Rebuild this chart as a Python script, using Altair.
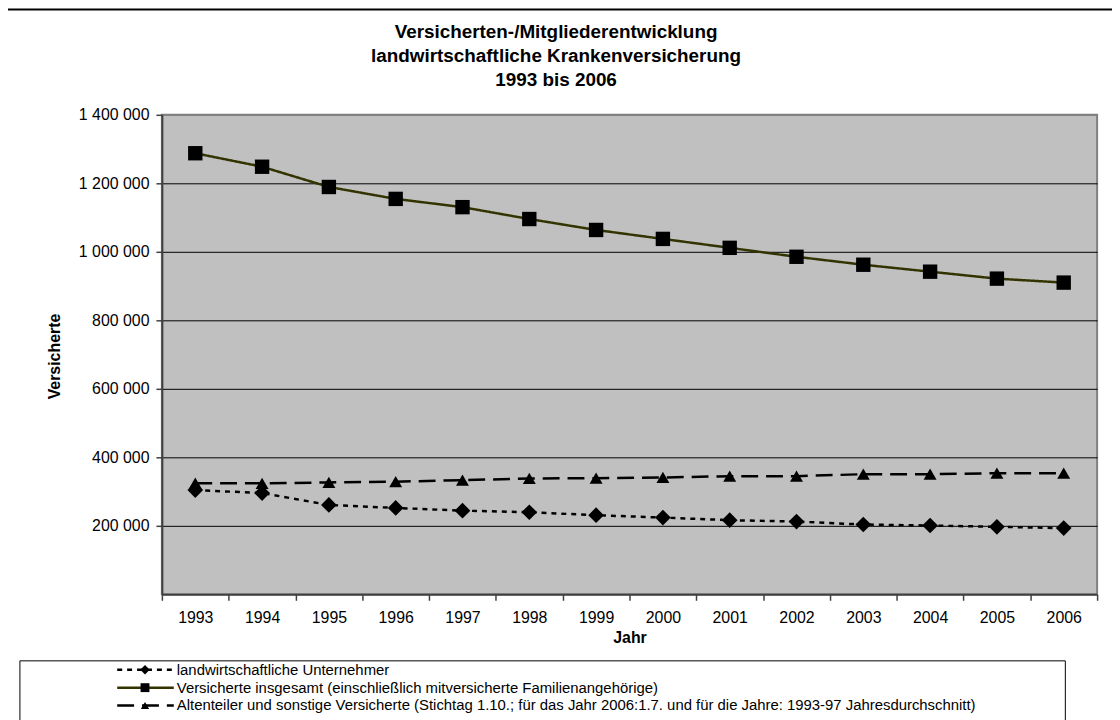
import altair as alt
import pandas as pd

# ---- data ----
years = list(range(1993, 2007))
unternehmer = [304300, 295700, 260900, 252200, 244300, 239700, 231000,
               224100, 216500, 212500, 203800, 200900, 197100, 193300]
insgesamt = [1287800, 1248400, 1189300, 1154500, 1130400, 1095700, 1063800,
             1037700, 1011600, 985500, 962300, 942000, 921700, 910100]
altenteiler = [324600, 324000, 326700, 329000, 333300, 338300, 339100,
               341200, 344900, 345000, 350700, 350700, 353600, 353600]

series_keys = ["U", "V", "A"]
series_labels = [
    "landwirtschaftliche Unternehmer",
    "Versicherte insgesamt (einschließlich mitversicherte Familienangehörige)",
    "Altenteiler und sonstige Versicherte (Stichtag 1.10.; für das Jahr 2006:1.7. und für die Jahre: 1993-97 Jahresdurchschnitt)",
]
y_ticks = [200000, 400000, 600000, 800000, 1000000, 1200000, 1400000]
title_lines = ["Versicherten-/Mitgliederentwicklung",
               "landwirtschaftliche Krankenversicherung",
               "1993 bis 2006"]

rows = []
for key, vals in zip(series_keys, [unternehmer, insgesamt, altenteiler]):
    for yr, v in zip(years, vals):
        rows.append({"Jahr": yr, "Wert": v, "key": key})
df = pd.DataFrame(rows)
leg_df = pd.DataFrame({"key": series_keys, "label": series_labels})
one = pd.DataFrame({"a": [0]})

FONT = "Liberation Sans"

color_scale = alt.Scale(domain=series_keys, range=["#000000", "#333300", "#000000"])
dash_scale = alt.Scale(domain=series_keys, range=[[5, 5], [1, 0], [17, 8]])
shape_scale = alt.Scale(domain=series_keys, range=["diamond", "square", "triangle-up"])
size_scale = alt.Scale(domain=series_keys, range=[250, 170, 340])
leg_size_scale = alt.Scale(domain=series_keys, range=[90, 70, 130])

x_enc = alt.X(
    "Jahr:O",
    scale=alt.Scale(type="band", paddingInner=0, paddingOuter=0),
    bandPosition=0.5,
    axis=alt.Axis(title="Jahr", tickBand="extent", grid=False, labelAngle=0,
                  labelPadding=9, titleY=44, titleBaseline="middle",
                  titleFontWeight="bold"),
)
y_enc = alt.Y(
    "Wert:Q",
    scale=alt.Scale(domain=[0, 1400000], nice=False),
    axis=alt.Axis(
        title="Versicherte", values=y_ticks,
        labelExpr="replace(format(datum.value, ','), regexp(',', 'g'), ' ')",
        grid=True,
        gridColor=alt.condition("datum.value == 1400000", alt.value("#808080"), alt.value("#000000")),
        gridWidth=1, labelPadding=7,
        titleX=-108, titleY=243, titleBaseline="middle", titleAlign="center",
        titleFontWeight="bold",
    ),
)

lines = alt.Chart(df).mark_line(strokeWidth=2.5).encode(
    x=x_enc, y=y_enc,
    color=alt.Color("key:N", scale=color_scale, legend=None),
    strokeDash=alt.StrokeDash("key:N", scale=dash_scale, legend=None),
    detail="key:N",
)
points = alt.Chart(df).mark_point(filled=True, opacity=1, color="#000000").encode(
    x=x_enc, y=y_enc,
    shape=alt.Shape("key:N", scale=shape_scale, legend=None),
    size=alt.Size("key:N", scale=size_scale, legend=None),
)
data_layer = alt.layer(lines, points)

leg_y = alt.Y("key:N", scale=alt.Scale(type="point", domain=series_keys,
                                      range=[559, 595], padding=0), axis=None)
leg_rule = alt.Chart(leg_df).mark_rule(strokeWidth=2.5).encode(
    x=alt.value(-45), x2=alt.value(12), y=leg_y,
    color=alt.Color("key:N", scale=color_scale, legend=None),
    strokeDash=alt.StrokeDash("key:N", scale=dash_scale, legend=None),
)
leg_pt = alt.Chart(leg_df).mark_point(filled=True, opacity=1, color="#000000").encode(
    x=alt.value(-17), y=leg_y,
    shape=alt.Shape("key:N", scale=shape_scale, legend=None),
    size=alt.Size("key:N", scale=leg_size_scale, legend=None),
)
leg_text = alt.Chart(leg_df).mark_text(align="left", baseline="middle", fontSize=15,
                                       font=FONT, color="#000000").encode(
    x=alt.value(15), y=leg_y, text="label:N",
)
legend_layer = alt.layer(leg_rule, leg_pt, leg_text).resolve_scale(size="independent")

frame = alt.Chart(one).mark_rect(fill="transparent", stroke="#000000", strokeWidth=2).encode(
    x=alt.value(-158), x2=alt.value(1100), y=alt.value(-106), y2=alt.value(700),
)
legbox = alt.Chart(one).mark_rect(fill="transparent", stroke="#000000", strokeWidth=1).encode(
    x=alt.value(-143), x2=alt.value(910), y=alt.value(550), y2=alt.value(700),
)

chart = alt.layer(frame, legbox, data_layer, legend_layer).resolve_scale(
    x="independent", y="independent", size="independent"
).properties(
    width=942, height=483,
    autosize=alt.AutoSizeParams(type="none"),
    padding={"left": 155, "top": 105, "right": 15, "bottom": 124},
    title=alt.TitleParams(text=title_lines, font=FONT, fontSize=19, fontWeight="bold",
                          color="#000000", anchor="middle", frame="group", dx=-74,
                          offset=-82, lineHeight=24),
    background="white",
).configure_view(
    fill="#C0C0C0", stroke="#808080", strokeWidth=2,
).configure_axis(
    labelFont=FONT, titleFont=FONT, labelFontSize=16, titleFontSize=16,
    labelColor="#000000", titleColor="#000000",
    domainColor="#404040", domainWidth=2, tickColor="#404040", tickWidth=1.5, tickSize=6,
)

chart.save("out.html", embed_options={"renderer": "svg", "actions": False})
